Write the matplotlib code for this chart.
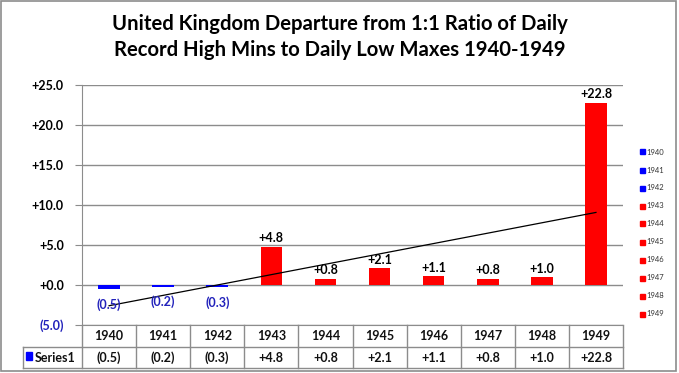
import numpy as np
import matplotlib
matplotlib.use("Agg")
import matplotlib.pyplot as plt
from matplotlib.lines import Line2D
from matplotlib.patches import Rectangle

years = ["1940", "1941", "1942", "1943", "1944", "1945", "1946", "1947", "1948", "1949"]
values = [-0.5, -0.2, -0.3, 4.8, 0.8, 2.1, 1.1, 0.8, 1.0, 22.8]
yticks = [-5, 0, 5, 10, 15, 20, 25]
title = "United Kingdom Departure from 1:1 Ratio of Daily\nRecord High Mins to Daily Low Maxes 1940-1949"

BLUE = "#0000ff"
RED = "#ff0000"
NEG_TXT = "#2222bb"
GRID = "#8c8c8c"
FONT = "Lato"

def fmt(v):
    return f"({abs(v):.1f})" if v < 0 else f"+{v:.1f}"

W, H = 679, 373
fig = plt.figure(figsize=(W / 100, H / 100), dpi=100)

def fx(px):
    return px / W

def fy(py):
    return 1 - py / H

# outer border
fig.patches.append(Rectangle((fx(1), fy(371)), fx(676) - fx(1), fy(1) - fy(371),
                             transform=fig.transFigure, fill=False, ec=GRID, lw=1.2))

left, right, top, bottom = 82, 623, 85, 325
ax = fig.add_axes([fx(left), fy(bottom), fx(right) - fx(left), fy(top) - fy(bottom)])
x = np.arange(len(years))
colors = [BLUE if v < 0 else RED for v in values]
ax.bar(x, values, width=0.4, color=colors, zorder=3)

# linear trend line
k, b = np.polyfit(x, values, 1)
ax.plot(x, k * x + b, color="black", lw=0.9, zorder=4)

for xi, v in zip(x, values):
    if v < 0:
        ax.annotate(fmt(v), (xi, v), xytext=(0, -11), textcoords="offset points",
                    ha="center", va="center", fontsize=9, fontweight="bold",
                    color=NEG_TXT, family=FONT, zorder=5)
    else:
        ax.annotate(fmt(v), (xi, v), xytext=(0, 6), textcoords="offset points",
                    ha="center", va="center", fontsize=9, fontweight="bold",
                    color="black", family=FONT, zorder=5)

ax.set_xlim(-0.5, len(years) - 0.5)
ax.set_ylim(-5, 25)
ax.set_yticks(yticks)
ax.set_yticklabels([fmt(t) for t in yticks], fontsize=9, fontweight="bold", family=FONT)
for lab, t in zip(ax.get_yticklabels(), yticks):
    lab.set_color(NEG_TXT if t < 0 else "black")
ax.set_xticks([])
ax.yaxis.grid(True, color=GRID, lw=1)
ax.set_axisbelow(True)
for s in ["top", "right"]:
    ax.spines[s].set_visible(False)
ax.spines["left"].set_color(GRID)
ax.spines["bottom"].set_color(GRID)
ax.tick_params(axis="y", length=5, color=GRID, pad=8)

# data table below the plot
row1, row2, row3 = 325, 347, 368
lab_left = 23
colw = (right - left) / len(years)

def hline(y, x0, x1):
    fig.add_artist(Line2D([fx(x0), fx(x1)], [fy(y), fy(y)], color=GRID, lw=1))

def vline(xp, y0, y1):
    fig.add_artist(Line2D([fx(xp), fx(xp)], [fy(y0), fy(y1)], color=GRID, lw=1))

hline(row2, lab_left, right)
hline(row3, lab_left, right)
vline(lab_left, row2, row3)
for i in range(len(years) + 1):
    vline(left + i * colw, row1, row3)

for i, (yr, v) in enumerate(zip(years, values)):
    cx = left + (i + 0.5) * colw
    fig.text(fx(cx), fy((row1 + row2) / 2), yr, ha="center", va="center",
             fontsize=9, fontweight="bold", family=FONT, color="#111111")
    fig.text(fx(cx), fy((row2 + row3) / 2), fmt(v), ha="center", va="center",
             fontsize=9, fontweight="bold", family=FONT, color="#111111")

fig.patches.append(Rectangle((fx(26), fy(360)), fx(6), fy(352) - fy(360),
                             transform=fig.transFigure, color=BLUE))
fig.text(fx(35), fy((row2 + row3) / 2), "Series1", ha="left", va="center",
         fontsize=9, fontweight="bold", family=FONT, color="#111111")

# legend on the right
for i, (yr, c) in enumerate(zip(years, colors)):
    yy = 152 + i * 18
    fig.patches.append(Rectangle((fx(640), fy(yy + 2.5)), fx(4.5), fy(yy - 2.5) - fy(yy + 2.5),
                                 transform=fig.transFigure, color=c))
    fig.text(fx(646), fy(yy), yr, ha="left", va="center", fontsize=5.5,
             family=FONT, color="#333333")

fig.text(fx(340), fy(37), title, ha="center", va="center", fontsize=14.6,
         fontweight="bold", family=FONT, linespacing=1.4, color="black")

fig.savefig("out.png", dpi=100)
